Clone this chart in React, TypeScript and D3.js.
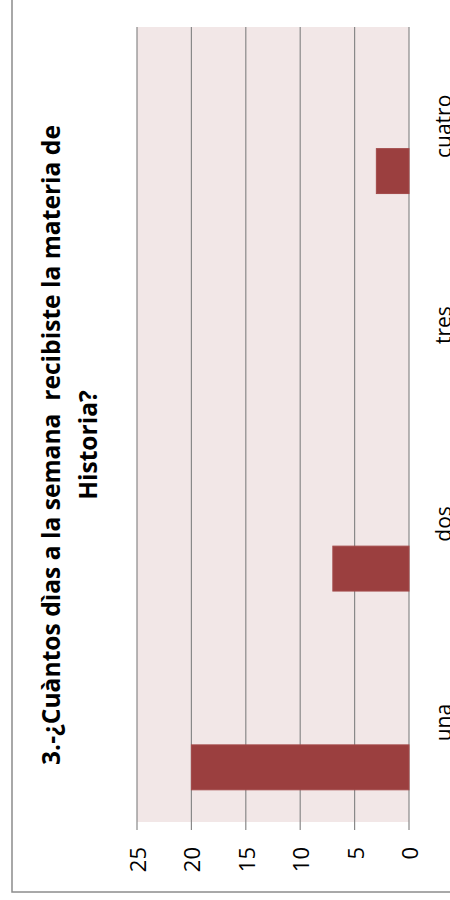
import React from "react";
import * as d3 from "d3";

const categories = ["una", "dos", "tres", "cuatro"];
const values = [20, 7, 0, 3];
const tickValues = [0, 5, 10, 15, 20, 25];
const titleLines = ["3.-¿Cuàntos dìas a la semana  recibiste la materia de", "Historia?"];

export default function App() {
  const W = 450, H = 900;
  const plotLeft = 137, plotRight = 409, plotTop = 27, plotBottom = 822;
  const x = d3.scaleLinear().domain([0, 25]).range([plotRight, plotLeft]);
  const y = d3.scaleBand().domain([...categories].reverse()).range([plotTop, plotBottom]);
  const bw = y.bandwidth();
  const barStart = 0.612, barEnd = 0.838;
  const font = "'Open Sans', sans-serif";
  const grid = "#898989";
  return (
    <svg width={W} height={H} style={{ position: "absolute", left: 0, top: 0 }}>
      <rect x={0} y={0} width={W} height={H} fill="#ffffff" />
      <rect x={12} y={-20} width={480} height={912} fill="#ffffff" stroke="#8c8c8c" strokeWidth={1.5} />
      <rect x={plotLeft} y={plotTop} width={plotRight - plotLeft} height={plotBottom - plotTop} fill="#f2e7e7" />
      {tickValues.map((t) => (
        <g key={t}>
          <line x1={x(t)} x2={x(t)} y1={plotTop} y2={plotBottom + 8} stroke={grid} strokeWidth={1.2} />
          <g transform={`translate(${x(t)},847) rotate(-90)`}>
            <text textAnchor="end" dominantBaseline="central" fontFamily={font} fontSize={22} fill="#000">{t}</text>
          </g>
        </g>
      ))}
      {categories.map((c, i) => {
        const y0 = (y(c) as number) + bw * barStart;
        const y1 = (y(c) as number) + bw * barEnd;
        return (
          <rect key={c} x={x(values[i])} y={y0} width={x(0) - x(values[i])} height={y1 - y0}
            fill="#9b3f3f" stroke="#a34a4a" strokeWidth={1} />
        );
      })}
      {categories.map((c) => (
        <g key={c} transform={`translate(0,${(y(c) as number) + bw / 2}) rotate(-90)`}>
          <text x={0} y={451} textAnchor="middle" fontFamily={font} fontSize={21} fill="#000">{c}</text>
        </g>
      ))}
      <g transform={`translate(0,445) rotate(-90)`}>
        {titleLines.map((l, i) => (
          <text key={i} x={0} y={60 + i * 37} textAnchor="middle" fontFamily={font} fontWeight="bold" fontSize={24.6} fill="#000" style={{ whiteSpace: "pre" }}>{l}</text>
        ))}
      </g>
    </svg>
  );
}
